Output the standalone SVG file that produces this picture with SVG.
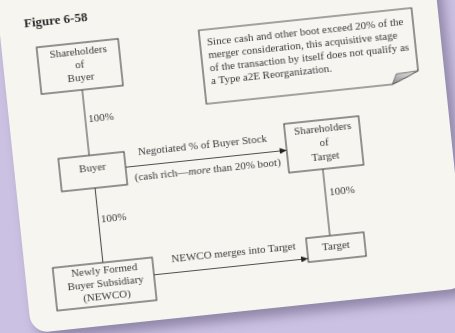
<svg xmlns="http://www.w3.org/2000/svg" width="455" height="333" viewBox="0 0 455 333">
<defs>
<style>
.box{fill:none;stroke:#4f4f4f;stroke-width:1.2}
.ln{fill:none;stroke:#4f4f4f;stroke-width:1.1}
.t{font-family:"Liberation Serif","Times New Roman",serif;font-size:11px;fill:#3a3a3a}
.c{text-anchor:middle}
.fig{font-family:"Liberation Serif","Times New Roman",serif;font-size:13px;font-weight:bold;fill:#2a2a2a}
</style>
<marker id="arr" markerUnits="userSpaceOnUse" markerWidth="8" markerHeight="6" refX="7" refY="3" orient="auto">
<path d="M0,0 L7,3 L0,6 Z" fill="#222"/>
</marker>
<filter id="sh" x="-10%" y="-10%" width="120%" height="120%">
<feGaussianBlur stdDeviation="6"/>
</filter>
<filter id="soft" x="-5%" y="-5%" width="110%" height="110%">
<feGaussianBlur stdDeviation="0.35"/>
</filter>
<linearGradient id="fold" x1="0" y1="1" x2="1" y2="0">
<stop offset="0" stop-color="#8a8a8a"/>
<stop offset="0.6" stop-color="#c8c8c8"/>
<stop offset="1" stop-color="#e8e8e8"/>
</linearGradient>
</defs>
<rect width="455" height="333" fill="#cbc1e2"/>
<g transform="rotate(-6 228 166)">
<rect x="18" y="-40" width="438" height="352" rx="18" fill="#5e5478" opacity="0.55" filter="url(#sh)" transform="translate(3,8)"/>
<rect x="15" y="-40" width="438" height="352" rx="18" fill="#f6f5f0"/>
<g filter="url(#soft)">
<text class="fig" x="40" y="7">Figure 6-58</text>
<g id="connectors">
<line class="ln" x1="91" y1="75" x2="91" y2="141"/>
<line class="ln" x1="93.5" y1="174" x2="93.5" y2="249"/>
<line class="ln" x1="126" y1="156.5" x2="288" y2="156.5" marker-end="url(#arr)"/>
<line class="ln" x1="322" y1="179" x2="322" y2="246"/>
<line class="ln" x1="143" y1="266.5" x2="298" y2="266.5" marker-end="url(#arr)"/>
<text class="t" x="94" y="108">100%</text>
<text class="t" x="96" y="209">100%</text>
<text class="t" x="326" y="206">100%</text>
<text class="t" x="140" y="146">Negotiated % of Buyer Stock</text>
<text class="t" x="134" y="171">(cash rich—<tspan font-style="italic">more</tspan> than 20% boot)</text>
<text class="t" x="162" y="256">NEWCO merges into Target</text>
</g>
<g id="node-shareholders-buyer">
<rect class="box" x="50" y="28" width="82" height="47"/>
<text class="t c" x="91" y="40">Shareholders</text>
<text class="t c" x="91" y="53">of</text>
<text class="t c" x="91" y="66">Buyer</text>
</g>
<g id="node-buyer">
<rect class="box" x="60" y="141" width="66" height="33"/>
<text class="t c" x="93" y="157">Buyer</text>
</g>
<g id="node-newco">
<rect class="box" x="43" y="249" width="100" height="43"/>
<text class="t c" x="94" y="260">Newly Formed</text>
<text class="t c" x="94" y="273">Buyer Subsidiary</text>
<text class="t c" x="94" y="286">(NEWCO)</text>
</g>
<g id="node-shareholders-target">
<rect class="box" x="288" y="130" width="75" height="49"/>
<text class="t c" x="326" y="142">Shareholders</text>
<text class="t c" x="326" y="156">of</text>
<text class="t c" x="326" y="170">Target</text>
</g>
<g id="node-target">
<rect class="box" x="298" y="246" width="58" height="24"/>
<text class="t c" x="327" y="260">Target</text>
</g>
<g id="node-note">
<path class="box" d="M213,28 L427,28 L427,91 Q414,97 400,102 L213,102 Z"/>
<path d="M400,102 Q403,96 405,92 Q416,92 427,91 Q414,97 400,102 Z" fill="url(#fold)" stroke="#5a5a5a" stroke-width="0.8"/>
<text class="t" x="220" y="44">Since cash and other boot exceed 20% of the</text>
<text class="t" x="220" y="57">merger consideration, this acquisitive stage</text>
<text class="t" x="220" y="70">of the transaction by itself does not qualify as</text>
<text class="t" x="220" y="83">a Type a2E Reorganization.</text>
</g>
</g>
</g>
</svg>
